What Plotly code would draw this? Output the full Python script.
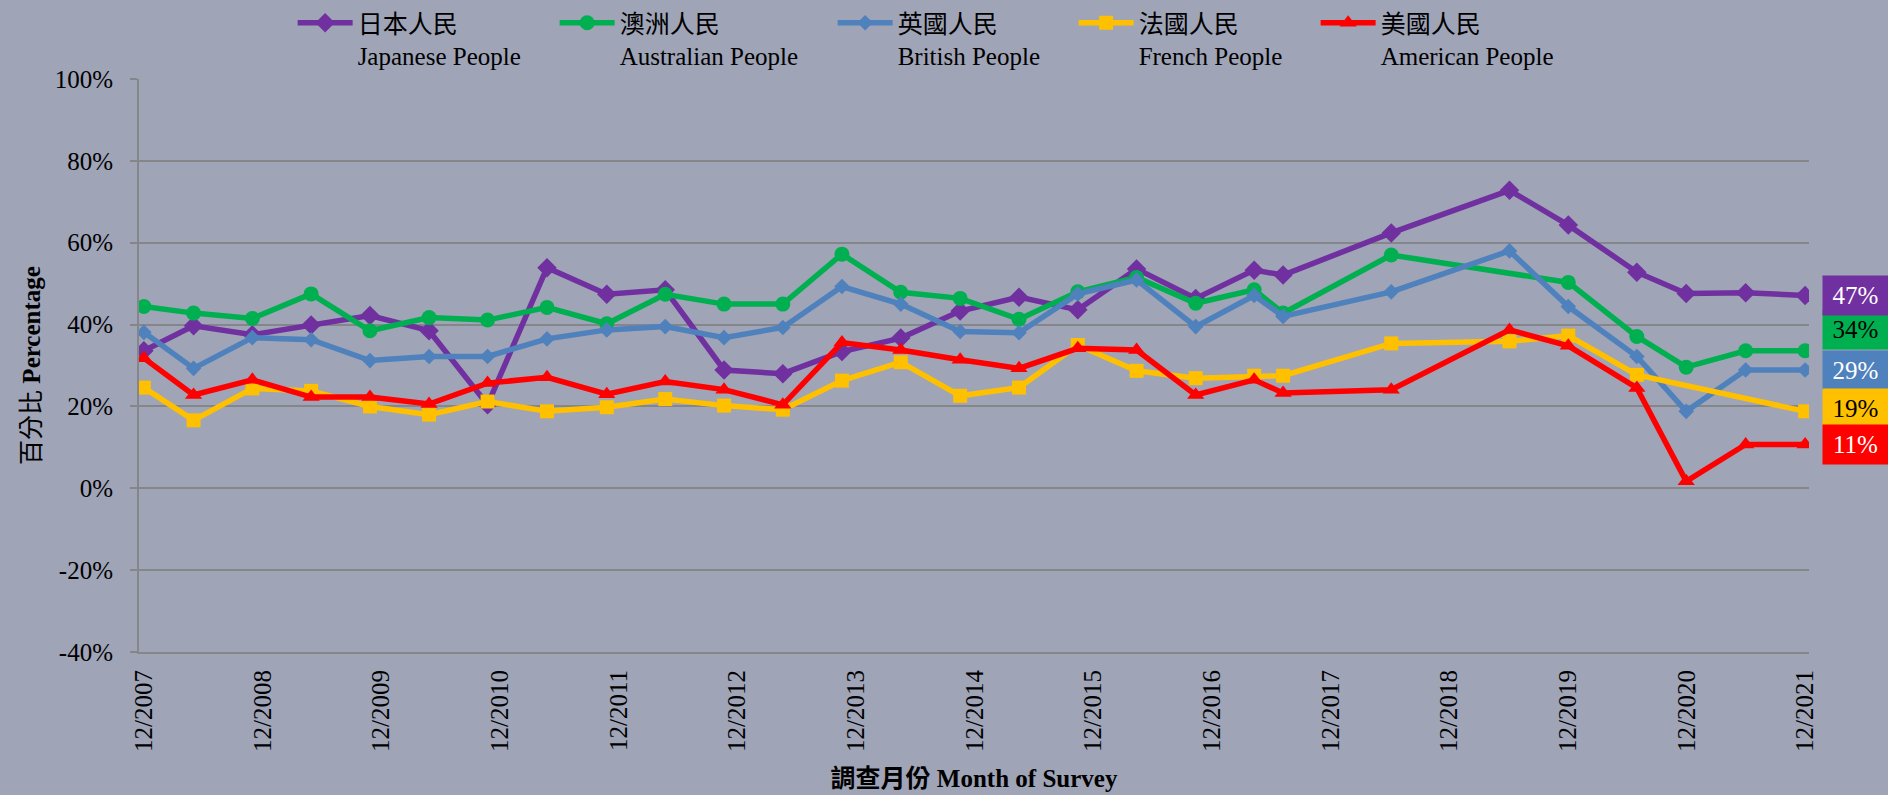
import plotly.graph_objects as go

survey_dates = ["2007-12-15", "2008-05-16", "2008-11-13", "2009-05-13", "2009-11-10", "2010-05-11",
                "2010-11-07", "2011-05-09", "2011-11-09", "2012-05-07", "2012-11-04", "2013-05-04",
                "2013-11-02", "2014-05-02", "2014-11-01", "2015-05-01", "2015-10-29", "2016-04-27",
                "2016-10-26", "2017-04-24", "2017-07-22", "2018-06-20", "2019-06-19", "2019-12-17",
                "2020-07-15", "2020-12-14", "2021-06-15", "2021-12-15"]

japanese = [33.6, 39.7, 37.5, 39.9, 42.2, 38.5, 20.4, 53.9, 47.4, 48.5, 28.9, 28.0, 33.4, 36.7,
            43.3, 46.7, 43.6, 53.6, 46.4, 53.3, 52.1, 62.4, 72.8, 64.3, 52.8, 47.6, 47.8, 47.1]
australian = [44.4, 42.8, 41.5, 47.5, 38.5, 41.7, 41.1, 44.2, 40.2, 47.4, 45.0, 45.0, 57.2, 47.9,
              46.4, 41.3, 48.0, 51.5, 45.2, 48.5, 42.8, 57.0, None, 50.3, 37.1, 29.6, 33.6, 33.6]
british = [38.1, 29.3, 36.8, 36.3, 31.2, 32.2, 32.2, 36.5, 38.7, 39.5, 36.8, 39.3, 49.3, 45.0,
           38.3, 38.0, 47.5, 50.9, 39.5, 47.1, 42.0, 48.0, 58.0, 44.4, 32.2, 18.8, 28.9, 28.9]
french = [24.6, 16.6, 24.4, 23.8, 20.0, 18.0, 21.2, 18.8, 19.8, 21.8, 20.2, 19.2, 26.3, 30.8,
          22.6, 24.6, 35.0, 28.7, 26.9, 27.5, 27.5, 35.4, 35.9, 37.3, 27.7, None, None, 18.8]
american = [31.8, 22.8, 26.5, 22.3, 22.3, 20.6, 25.7, 27.1, 23.0, 26.1, 24.1, 20.4, 35.6, 33.8,
            31.4, 29.3, 34.2, 33.8, 22.8, 26.5, 23.3, 24.1, 38.7, 34.8, 24.5, 1.7, 10.7, 10.7]

series_names = ["日本人民<br>Japanese People", "澳洲人民<br>Australian People", "英國人民<br>British People",
                "法國人民<br>French People", "美國人民<br>American People"]

x_tick_dates = ["2007-12-15", "2008-12-15", "2009-12-15", "2010-12-15", "2011-12-15", "2012-12-15",
                "2013-12-15", "2014-12-15", "2015-12-15", "2016-12-15", "2017-12-15", "2018-12-15",
                "2019-12-15", "2020-12-15", "2021-12-15"]
x_tick_labels = ["12/2007", "12/2008", "12/2009", "12/2010", "12/2011", "12/2012", "12/2013",
                 "12/2014", "12/2015", "12/2016", "12/2017", "12/2018", "12/2019", "12/2020", "12/2021"]
y_tick_vals = [-40, -20, 0, 20, 40, 60, 80, 100]
y_tick_labels = ["-40%", "-20%", "0%", "20%", "40%", "60%", "80%", "100%"]

FONT = "Liberation Serif, 'Times New Roman', 'Noto Sans CJK TC', serif"
BG = "#9FA4B7"
GRID = "#858689"

styles = [
    dict(color="#7030A0", symbol="diamond", size=15, lw=192, label_font="white", yshift=0, z=5),
    dict(color="#00B050", symbol="circle", size=15, lw=208, label_font="black", yshift=21, z=1),
    dict(color="#4F81BD", symbol="diamond", size=12, lw=171, label_font="white", yshift=0, z=2),
    dict(color="#FFC000", symbol="square", size=14, lw=172, label_font="black", yshift=3, z=3),
    dict(color="#FF0000", symbol="triangle-up", size=15, lw=200, label_font="white", yshift=0, z=4),
]
all_series = [japanese, australian, british, french, american]

fig = go.Figure()
for name, vals, st in zip(series_names, all_series, styles):
    fig.add_trace(go.Scatter(
        x=survey_dates, y=vals, name=name, mode="lines+markers", connectgaps=True,
        line=dict(color=st["color"], width=5.5),
        marker=dict(symbol=st["symbol"], size=st["size"], color=st["color"]),
        legendwidth=st["lw"],
    ))

# end-value labels (drawn in stacking order)
order = sorted(range(len(all_series)), key=lambda i: styles[i]["z"])
for i in order:
    vals, st = all_series[i], styles[i]
    last = vals[-1]
    fig.add_annotation(
        x=survey_dates[-1], y=last, xref="x", yref="y",
        text=f"{round(last):d}%", showarrow=False,
        xanchor="left", yanchor="middle", xshift=17, yshift=st["yshift"],
        bgcolor=st["color"], font=dict(family=FONT, size=25, color=st["label_font"]),
        width=59, height=33, borderpad=3, align="center", valign="middle",
    )

fig.update_layout(
    width=1888, height=795,
    paper_bgcolor=BG, plot_bgcolor=BG,
    margin=dict(l=139, r=79, t=79, b=143, autoexpand=False),
    font=dict(family=FONT, size=25, color="black"),
    showlegend=True,
    legend=dict(
        orientation="h", x=0.092, xanchor="left", y=1.0, yanchor="top", yref="container",
        bgcolor="rgba(0,0,0,0)", font=dict(family=FONT, size=25, color="black"),
        itemwidth=55, valign="top", tracegroupgap=0,
    ),
    xaxis=dict(
        type="date", range=["2007-11-30", "2021-12-27"],
        tickvals=x_tick_dates, ticktext=x_tick_labels, tickangle=-90,
        tickfont=dict(family=FONT, size=25, color="black"),
        showgrid=False, zeroline=False, showline=True, linecolor=GRID, linewidth=2,
        ticks="", ticklabelstandoff=6,
        title=dict(text="<b>調查月份 Month of Survey</b>", font=dict(family=FONT, size=25, color="black"),
                   standoff=19),
        automargin=False,
    ),
    yaxis=dict(
        range=[-40, 100], tickvals=y_tick_vals, ticktext=y_tick_labels,
        tickfont=dict(family=FONT, size=25, color="black"),
        showgrid=True, gridcolor=GRID, gridwidth=2, zeroline=False,
        showline=True, linecolor=GRID, linewidth=2,
        ticks="outside", ticklen=7, tickcolor=GRID, tickwidth=2, ticklabelstandoff=12,
        title=dict(text="百分比 <b>Percentage</b>", font=dict(family=FONT, size=25, color="black"),
                   standoff=7),
        automargin=False,
    ),
)

fig.write_html(
    "out.html",
    config={"displayModeBar": False},
    post_script="document.body.style.margin='0';document.body.style.background='" + BG + "';"
                "document.body.style.overflow='hidden';",
)
